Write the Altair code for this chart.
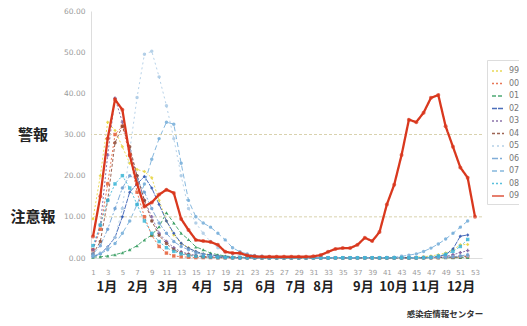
import altair as alt
import pandas as pd

series = ["99", "00", "01", "02", "03", "04", "05", "06", "07", "08", "09"]

s99 = [9.5, 20, 33, 31, 27, 23, 21.5, 21, 19.5, 14,
       9, 5.6, 3.5, 2.5, 1.5, 1.0, 0.7, 0.5, 0.3, 0.2,
       0.15, 0.1, 0.1, 0.1, 0.05, 0.05, 0.05, 0.05, 0.05, 0.05,
       0.05, 0.05, 0.05, 0.05, 0.05, 0.05, 0.05, 0.05, 0.05, 0.05,
       0.05, 0.05, 0.1, 0.1, 0.2, 0.3, 0.5, 0.8, 1.2, 2.0,
       3.2, 3.3]
s00 = [2, 7, 18, 30, 32, 25, 16, 10, 5.5, 2.8,
       1.2, 0.5, 0.3, 0.2, 0.1, 0.1, 0.1, 0.05, 0.05, 0.05,
       0.05, 0.05, 0.05, 0.05, 0.05, 0.05, 0.05, 0.05, 0.05, 0.05,
       0.05, 0.05, 0.05, 0.05, 0.05, 0.05, 0.05, 0.05, 0.05, 0.05,
       0.05, 0.05, 0.05, 0.05, 0.05, 0.1, 0.1, 0.1, 0.2, 0.2,
       0.3, 0.3]
s01 = [0.2, 0.3, 0.5, 0.8, 1.3, 2, 3, 4.4, 5.6, 7.6,
       11, 8.5, 6, 4.5, 2.7, 2, 1.2, 0.8, 0.5, 0.3,
       0.2, 0.1, 0.1, 0.05, 0.05, 0.05, 0.05, 0.05, 0.05, 0.05,
       0.05, 0.05, 0.05, 0.05, 0.05, 0.05, 0.05, 0.05, 0.05, 0.05,
       0.05, 0.05, 0.05, 0.05, 0.05, 0.05, 0.05, 0.05, 0.05, 0.05,
       0.1, 0.1]
s02 = [0.3, 1, 2.7, 5, 10, 16, 18, 19.8, 17, 13,
       9, 6, 3.6, 2.4, 1.6, 1, 0.8, 0.5, 0.3, 0.2,
       0.1, 0.1, 0.05, 0.05, 0.05, 0.05, 0.05, 0.05, 0.05, 0.05,
       0.05, 0.05, 0.05, 0.05, 0.05, 0.05, 0.05, 0.05, 0.05, 0.05,
       0.05, 0.05, 0.05, 0.05, 0.1, 0.1, 0.2, 0.4, 0.8, 2.2,
       5.3, 5.6]
s03 = [2, 8, 25, 38.8, 33, 26, 20, 14, 10, 6,
       4, 2.5, 1.5, 1, 0.6, 0.4, 0.3, 0.2, 0.1, 0.1,
       0.05, 0.05, 0.05, 0.05, 0.05, 0.05, 0.05, 0.05, 0.05, 0.05,
       0.05, 0.05, 0.05, 0.05, 0.05, 0.05, 0.05, 0.05, 0.05, 0.05,
       0.05, 0.05, 0.05, 0.05, 0.05, 0.05, 0.1, 0.2, 0.4, 0.8,
       1.3, 1.8]
s04 = [1, 4, 14, 28, 32, 27, 20, 14, 9, 5.5,
       3.5, 2, 1.2, 0.8, 0.5, 0.3, 0.2, 0.1, 0.1, 0.05,
       0.05, 0.05, 0.05, 0.05, 0.05, 0.05, 0.05, 0.05, 0.05, 0.05,
       0.05, 0.05, 0.05, 0.05, 0.05, 0.05, 0.05, 0.05, 0.05, 0.05,
       0.05, 0.05, 0.05, 0.05, 0.05, 0.05, 0.05, 0.1, 0.15, 0.2,
       0.3, 0.5]
s05 = [0.5, 1.2, 2.5, 5, 12, 26, 39, 49.5, 50.2, 44,
       37, 29, 20, 12, 8.5, 6, 4, 2.5, 1.5, 1,
       0.6, 0.4, 0.3, 0.2, 0.1, 0.1, 0.1, 0.1, 0.1, 0.1,
       0.1, 0.1, 0.1, 0.1, 0.1, 0.1, 0.1, 0.1, 0.1, 0.1,
       0.1, 0.1, 0.1, 0.1, 0.1, 0.1, 0.1, 0.15, 0.2, 0.3,
       0.4, 0.5]
s06 = [1, 3, 7, 12, 17, 20, 19, 16, 12, 8.5,
       6, 4, 2.8, 2, 1.3, 0.8, 0.5, 0.3, 0.2, 0.1,
       0.05, 0.05, 0.05, 0.05, 0.05, 0.05, 0.05, 0.05, 0.05, 0.05,
       0.05, 0.05, 0.05, 0.05, 0.05, 0.05, 0.05, 0.05, 0.05, 0.05,
       0.05, 0.05, 0.05, 0.05, 0.05, 0.05, 0.05, 0.1, 0.2, 0.3,
       0.5, 0.8]
s07 = [0.5, 1, 2, 3.5, 6, 9, 13, 18, 24, 29,
       33, 32.5, 23, 14, 10, 8.5, 7.5, 6, 4.4, 2.5,
       1.5, 1, 0.6, 0.4, 0.3, 0.2, 0.15, 0.1, 0.1, 0.1,
       0.05, 0.05, 0.05, 0.05, 0.05, 0.05, 0.05, 0.05, 0.05, 0.05,
       0.1, 0.2, 0.4, 0.7, 1.0, 1.6, 2.4, 3.4, 4.6, 6.0,
       7.5, 9.0]
s08 = [3, 8, 14, 18, 20, 17, 13, 9, 6, 4,
       2.5, 1.6, 1, 0.6, 0.4, 0.3, 0.2, 0.1, 0.1, 0.05,
       0.05, 0.05, 0.05, 0.05, 0.05, 0.05, 0.05, 0.05, 0.05, 0.05,
       0.05, 0.05, 0.05, 0.05, 0.05, 0.05, 0.05, 0.05, 0.05, 0.05,
       0.05, 0.05, 0.05, 0.05, 0.05, 0.1, 0.2, 0.5, 0.9, 1.6,
       2.8, 4.5]
s09 = [5.2, 15, 29, 38.5, 36, 25, 18, 12.5, 13.5, 15.4,
       16.6, 15.8, 9.5, 6.8, 4.4, 4.1, 3.9, 3.2, 1.5, 1.2,
       1.2, 0.6, 0.4, 0.3, 0.3, 0.3, 0.3, 0.3, 0.3, 0.3,
       0.4, 0.7, 1.5, 2.2, 2.4, 2.4, 3.2, 4.9, 4.1, 6.3,
       13, 17.8, 25, 33.6, 33, 35.3, 38.9, 39.6, 32, 27,
       22, 19.5, 10]

values = {"99": s99, "00": s00, "01": s01, "02": s02, "03": s03, "04": s04,
          "05": s05, "06": s06, "07": s07, "08": s08, "09": s09}

week_ticks = list(range(1, 54, 2))
y_ticks = [0, 10, 20, 30, 40, 50, 60]

month_labels = ["1月", "2月", "3月", "4月", "5月", "6月",
                "7月", "8月", "9月", "10月", "11月", "12月"]
month_weeks = [2.9, 7.1, 11.2, 15.9, 20.1, 24.5, 28.6, 32.4, 37.8, 41.9, 46.3, 51.1]

level_labels = ["警報", "注意報"]
level_values = [30, 10]

credit = ["感染症情報センター"]

rows = []
for s in series:
    for i, v in enumerate(values[s]):
        rows.append({"series": s, "week": i + 1, "value": v})
df = pd.DataFrame(rows)

colors = ["#e6d23a", "#e5603a", "#2f9a5c", "#2d55b0", "#7a5c9c", "#8c4a36",
          "#a9c9e4", "#6b9fd2", "#72acd8", "#3db6d6", "#d9381e"]
dashes = [[2, 2], [2, 2], [4, 2], [5, 1], [2, 2], [3, 2],
          [2, 3], [6, 2, 2, 2], [5, 3], [2, 2], [1, 0]]
shapes = ["diamond", "square", "triangle-up", "diamond", "cross", "circle",
          "circle", "circle", "circle", "square", "circle"]

xscale = alt.Scale(domain=[0.73, 53.95], nice=False, zero=False)
yscale = alt.Scale(domain=[0, 60], nice=False)

xaxis = alt.Axis(values=week_ticks, title=None, grid=False, tickSize=0,
                 labelFontSize=7, labelColor="#9a9a9a", labelPadding=10,
                 labelOverlap=False, labelFlush=False,
                 domainColor="#dddddd", labelFont="DejaVu Sans")
yaxis = alt.Axis(values=y_ticks, format=".2f", title=None, grid=False,
                 tickSize=0, labelFontSize=7.5, labelColor="#9a9a9a",
                 labelPadding=6, domainColor="#dddddd", labelFont="DejaVu Sans")

X = alt.X("week:Q", scale=xscale, axis=xaxis)
Y = alt.Y("value:Q", scale=yscale, axis=yaxis)

cscale = alt.Scale(domain=series, range=colors)
dscale = alt.Scale(domain=series, range=dashes)
leg = alt.Legend(orient="none", legendX=396, legendY=49, title=None)

col_leg = alt.Color("series:N", scale=cscale, legend=leg)
dash_leg = alt.StrokeDash("series:N", scale=dscale, legend=leg)
col_nl = alt.Color("series:N", scale=cscale, legend=None)
dash_nl = alt.StrokeDash("series:N", scale=dscale, legend=None)
shp = alt.Shape("series:N", scale=alt.Scale(domain=series, range=shapes), legend=None)

base = alt.Chart(df)

others_line = base.transform_filter(alt.datum.series != "09").mark_line(
    strokeWidth=1, opacity=0.85).encode(x=X, y=Y, color=col_leg, strokeDash=dash_leg)
others_pts = base.transform_filter(alt.datum.series != "09").mark_point(
    filled=True, size=12, opacity=0.85).encode(x=X, y=Y, color=col_nl, shape=shp)
main_line = base.transform_filter(alt.datum.series == "09").mark_line(
    strokeWidth=2.3).encode(x=X, y=Y, color=col_nl, strokeDash=dash_nl)
main_pts = base.transform_filter(alt.datum.series == "09").mark_point(
    filled=True, size=16).encode(x=X, y=Y, color=col_nl, shape=shp)

levels_df = pd.DataFrame({"label": level_labels, "level": level_values})
rules = alt.Chart(levels_df).mark_rule(color="#d9d2ae", strokeDash=[3, 2], strokeWidth=1).encode(
    y=alt.Y("level:Q", scale=yscale, axis=yaxis))
level_text = alt.Chart(levels_df).mark_text(
    align="center", baseline="middle", fontSize=15, fontWeight="bold",
    font="Noto Sans CJK JP", color="#222222").encode(
    x=alt.value(-58), y=alt.Y("level:Q", scale=yscale, axis=yaxis), text="label:N")

months_df = pd.DataFrame({"label": month_labels, "week": month_weeks})
month_text = alt.Chart(months_df).mark_text(
    align="center", baseline="middle", fontSize=13, fontWeight="bold",
    font="Noto Sans CJK JP", color="#222222").encode(
    x=alt.X("week:Q", scale=xscale, axis=xaxis), y=alt.value(276), text="label:N")

credit_df = pd.DataFrame({"t": credit})
credit_text = alt.Chart(credit_df).mark_text(
    align="center", baseline="middle", fontSize=8.5, fontWeight="bold",
    font="Noto Sans CJK JP", color="#333333").encode(
    x=alt.value(354), y=alt.value(303), text="t:N")

chart = alt.layer(
    others_line, rules, others_pts, main_line, main_pts,
    level_text, month_text, credit_text
).resolve_legend(
    color="independent", strokeDash="independent", shape="independent"
).properties(
    width=391, height=247,
    autosize=alt.AutoSizeParams(type="none"),
    padding={"left": 83, "top": 3, "right": 37, "bottom": 60},
).configure_view(stroke=None).configure_axisX(labelOverlap=False).configure_legend(
    strokeColor="#dddddd", fillColor="white", padding=4,
    labelFontSize=8, labelColor="#777777", labelFont="DejaVu Sans",
    symbolType="stroke", symbolSize=144, symbolStrokeWidth=1.5,
    rowPadding=1.5, labelOffset=4,
)

chart.save("out.html", embed_options={"renderer": "svg", "actions": False})
